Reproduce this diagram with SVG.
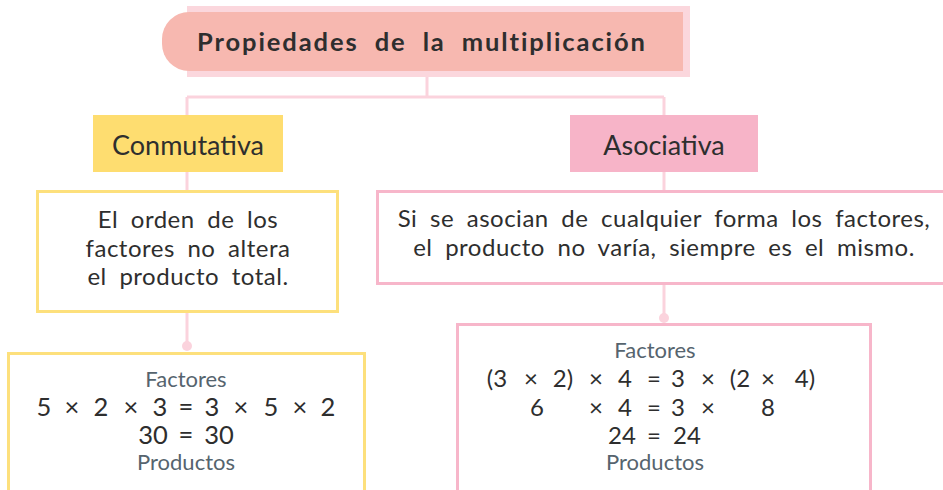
<svg xmlns="http://www.w3.org/2000/svg" width="943" height="490" viewBox="0 0 943 490">
<style>
text{font-family:Lato,"Open Sans","Liberation Sans",sans-serif;fill:#2e2e2e}
.t{font-size:25.5px;font-weight:bold;letter-spacing:1.9px;word-spacing:8px}
.h{font-size:27px;text-anchor:middle}
.p{font-size:24px;text-anchor:middle;word-spacing:6px;letter-spacing:0.5px}
.g{font-size:22px;fill:#56646e;text-anchor:middle}
.m{font-size:25.5px;text-anchor:middle}
.n{font-size:24px;text-anchor:middle}
.con{stroke:#fbd3dd;stroke-width:3;fill:none}
.dot{fill:#fbd3dd}
.yb{fill:#fff;stroke:#fde07c;stroke-width:3}
.pb{fill:#fff;stroke:#f7b6ca;stroke-width:3}
</style>
<rect width="943" height="490" fill="#fff"/>
<g id="connectors">
<path class="con" d="M427 77V97M187 97H664M187 97V115M664 97V115M187 172V191M664 172V191M187 312V346M664 284V318"/>
<circle class="dot" cx="187" cy="346" r="5"/>
<circle class="dot" cx="664" cy="318" r="5"/>
</g>
<g id="title">
<rect x="187" y="6" width="503" height="71" fill="#fbd7dd"/>
<path d="M189 12H683V71H189A27 27 0 0 1 162 44V39A27 27 0 0 1 189 12Z" fill="#f7b8b0"/>
<text class="t" x="197" y="51">Propiedades de la multiplicación</text>
</g>
<g id="conmutativa">
<rect x="93" y="115" width="190" height="57" fill="#fedd70"/>
<text class="h" x="188" y="155">Conmutativa</text>
</g>
<g id="asociativa">
<rect x="570" y="115" width="188" height="57" fill="#f7b4c8"/>
<text class="h" x="664" y="155">Asociativa</text>
</g>
<g id="conm-desc">
<rect class="yb" x="37.5" y="191.5" width="300" height="120"/>
<text class="p" x="188" y="228">El orden de los</text>
<text class="p" x="188" y="257">factores no altera</text>
<text class="p" x="188" y="285">el producto total.</text>
</g>
<g id="asoc-desc">
<rect class="pb" x="377.5" y="191.5" width="580" height="92"/>
<text class="p" x="664" y="227">Si se asocian de cualquier forma los factores,</text>
<text class="p" x="664" y="256">el producto no varía, siempre es el mismo.</text>
</g>
<g id="conm-ejemplo">
<rect class="yb" x="8.5" y="353.5" width="356" height="150"/>
<text class="g" x="186" y="387">Factores</text>
<text class="m" y="416"><tspan x="44">5</tspan><tspan x="72">×</tspan><tspan x="101">2</tspan><tspan x="131">×</tspan><tspan x="160">3</tspan><tspan x="186">=</tspan><tspan x="212">3</tspan><tspan x="241">×</tspan><tspan x="271">5</tspan><tspan x="300">×</tspan><tspan x="328">2</tspan></text>
<text class="m" y="444"><tspan x="153">30</tspan><tspan x="186">=</tspan><tspan x="219">30</tspan></text>
<text class="g" x="186" y="470">Productos</text>
</g>
<g id="asoc-ejemplo">
<rect class="pb" x="457.5" y="324.5" width="413" height="180"/>
<text class="g" x="655" y="358">Factores</text>
<text class="n" y="387"><tspan x="497">(3</tspan><tspan x="531">×</tspan><tspan x="563">2)</tspan><tspan x="596">×</tspan><tspan x="625">4</tspan><tspan x="654">=</tspan><tspan x="678">3</tspan><tspan x="708">×</tspan><tspan x="740">(2</tspan><tspan x="768">×</tspan><tspan x="805">4)</tspan></text>
<text class="n" y="416"><tspan x="537">6</tspan><tspan x="596">×</tspan><tspan x="625">4</tspan><tspan x="654">=</tspan><tspan x="678">3</tspan><tspan x="708">×</tspan><tspan x="768">8</tspan></text>
<text class="n" y="444"><tspan x="622">24</tspan><tspan x="654">=</tspan><tspan x="687">24</tspan></text>
<text class="g" x="655" y="470">Productos</text>
</g>
</svg>
